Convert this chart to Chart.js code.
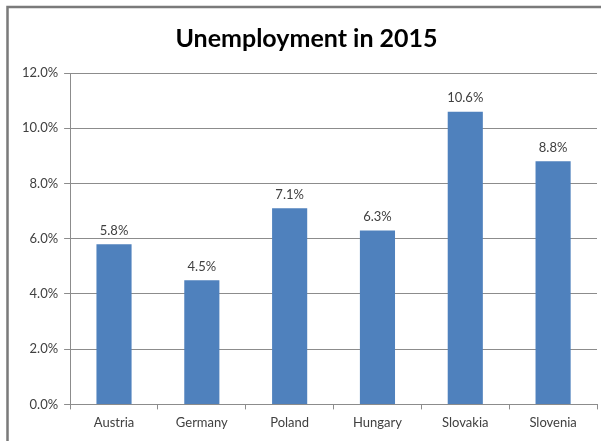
<!DOCTYPE html>
<html>
<head>
<meta charset="utf-8">
<script src="https://cdn.jsdelivr.net/npm/chart.js@4/dist/chart.umd.min.js"></script>
<style>
  html, body { margin: 0; padding: 0; background: #fff; }
  #wrap { position: relative; width: 601px; height: 441px; }
</style>
</head>
<body>
<div id="wrap"><canvas id="unemploymentChart"></canvas></div>
<script>
  // Unemployment rate per country, 2015 (percent)
  const countries = ['Austria', 'Germany', 'Poland', 'Hungary', 'Slovakia', 'Slovenia'];
  const unemploymentRates = [5.8, 4.5, 7.1, 6.3, 10.6, 8.8];
  const yTickValues = [0, 2, 4, 6, 8, 10, 12];

  const fontFamily = 'Lato, "Open Sans", sans-serif';
  const textColor = '#404040';
  const lineColor = '#8c8c8c';

  // Gray frame along the top and left edges of the chart box
  const framePlugin = {
    id: 'frame',
    beforeDraw(chart) {
      const ctx = chart.ctx;
      ctx.save();
      ctx.fillStyle = '#fff';
      ctx.fillRect(0, 0, chart.width, chart.height);
      ctx.strokeStyle = '#7a7a7a';
      ctx.lineWidth = 2.5;
      ctx.beginPath();
      ctx.moveTo(7.5, chart.height);
      ctx.lineTo(7.5, 7);
      ctx.lineTo(chart.width, 7);
      ctx.stroke();
      ctx.restore();
    }
  };

  // Value labels printed above each bar
  const valueLabels = {
    id: 'valueLabels',
    afterDatasetsDraw(chart) {
      const ctx = chart.ctx;
      const meta = chart.getDatasetMeta(0);
      ctx.save();
      ctx.font = '13px ' + fontFamily;
      ctx.fillStyle = textColor;
      ctx.textAlign = 'center';
      ctx.textBaseline = 'bottom';
      meta.data.forEach(function(bar, i) {
        ctx.fillText(unemploymentRates[i].toFixed(1) + '%', bar.x, bar.y - 7);
      });
      ctx.restore();
    }
  };

  const ctx = document.getElementById('unemploymentChart').getContext('2d');
  new Chart(ctx, {
    type: 'bar',
    data: {
      labels: countries,
      datasets: [{
        label: 'Unemployment',
        data: unemploymentRates,
        backgroundColor: '#4f81bd',
        borderWidth: 0,
        categoryPercentage: 1,
        barPercentage: 0.4
      }]
    },
    options: {
      responsive: true,
      maintainAspectRatio: false,
      animation: false,
      layout: {
        padding: { left: 16, right: 4, top: 0, bottom: 4 }
      },
      plugins: {
        legend: { display: false },
        tooltip: { enabled: false },
        title: {
          display: true,
          text: 'Unemployment in 2015',
          color: '#000',
          font: { family: fontFamily, size: 25, weight: 'bold' },
          padding: { top: 24, bottom: 19 }
        }
      },
      scales: {
        x: {
          offset: true,
          grid: {
            offset: true,
            drawOnChartArea: false,
            drawTicks: true,
            tickLength: 5,
            color: lineColor
          },
          border: { color: lineColor },
          ticks: {
            color: textColor,
            font: { family: fontFamily, size: 13 },
            padding: 6
          }
        },
        y: {
          min: 0,
          max: 12,
          afterBuildTicks(scale) {
            scale.ticks = yTickValues.map(function(v) { return { value: v }; });
          },
          grid: {
            color: lineColor,
            drawTicks: true,
            tickLength: 6
          },
          border: { color: lineColor },
          ticks: {
            color: textColor,
            font: { family: fontFamily, size: 13 },
            padding: 6,
            callback: function(value) {
              return value.toFixed(1) + '%';
            }
          }
        }
      }
    },
    plugins: [framePlugin, valueLabels]
  });
</script>
</body>
</html>
